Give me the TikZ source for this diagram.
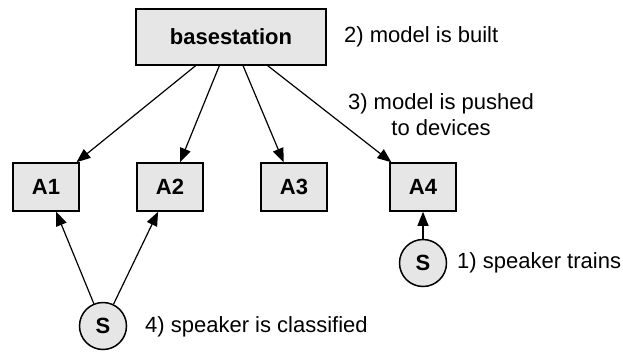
\documentclass[tikz,border=0pt]{standalone}
\usepackage{fontspec}
\setmainfont{Liberation Sans}
\usetikzlibrary{arrows.meta}
\definecolor{boxgray}{HTML}{E6E6E6}
\begin{document}
\begin{tikzpicture}[x=1pt,y=-1pt,
  box/.style={draw=black, line width=1.5pt, fill=boxgray, inner sep=0pt,
    font=\fontsize{22}{26}\selectfont\bfseries},
  abox/.style={box, minimum width=66pt, minimum height=48pt},
  snode/.style={circle, draw=black, line width=1.5pt, fill=boxgray, inner sep=0pt,
    minimum size=47pt, font=\fontsize{22}{26}\selectfont\bfseries},
  lbl/.style={inner sep=0pt, font=\fontsize{22}{26}\selectfont},
  arr/.style={-{Triangle[length=14pt,width=11pt]}, line width=1.2pt}]
\useasboundingbox (0,0) rectangle (623,351);
\node[box, minimum width=190pt, minimum height=56pt] (bs) at (231,37) {basestation};
\node[abox] (a1) at (46,187) {A1};
\node[abox] (a2) at (170,187) {A2};
\node[abox] (a3) at (294,187) {A3};
\node[abox] (a4) at (423,187) {A4};
\node[snode] (s1) at (423,263) {S};
\node[snode] (s2) at (103,326) {S};
\node[lbl, anchor=west] (l2) at (344,37) {2) model is built};
\node[lbl, align=center] (l3) at (441,115) {3) model is pushed\\to devices};
\node[lbl, anchor=west] (l1) at (457,263) {1) speaker trains};
\node[lbl, anchor=west] (l4) at (145,327) {4) speaker is classified};
\draw[arr] (bs) -- (a1);
\draw[arr] (bs) -- (a2);
\draw[arr] (bs) -- (a3);
\draw[arr] (bs) -- (a4);
\draw[arr] (s1) -- (a4);
\draw[arr] (s2) -- (a1);
\draw[arr] (s2) -- (a2);
\end{tikzpicture}
\end{document}
